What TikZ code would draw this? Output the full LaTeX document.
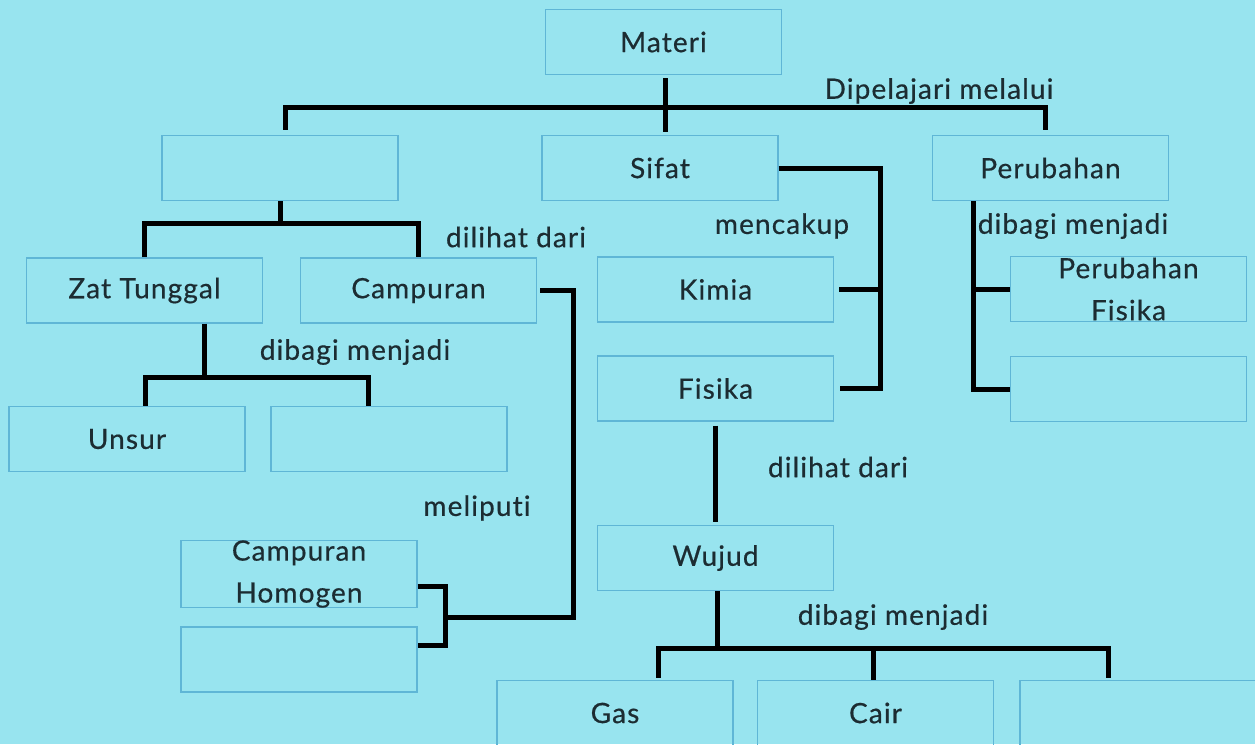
\documentclass[tikz,border=0pt]{standalone}
\usepackage{fontspec}
\setmainfont{Lato}[Ligatures=NoCommon, LetterSpace=4, FakeBold=0.5]
\definecolor{bg}{RGB}{152,228,239}
\definecolor{bx}{RGB}{95,182,214}
\definecolor{tx}{RGB}{28,44,50}
\begin{document}
\begin{tikzpicture}[x=1pt,y=-1pt,
  box/.style={draw=bx, line width=1.2pt, minimum width=236pt, minimum height=65pt,
    inner sep=0pt, text=tx, font=\fontsize{28}{42}\selectfont, align=center},
  lbl/.style={text=tx, font=\fontsize{28}{34}\selectfont, inner sep=0pt},
  con/.style={line width=5pt, black, line join=miter}]
\fill[bg] (0,0) rectangle (1255,744);
\useasboundingbox (0,0) rectangle (1255,744);
\begin{scope}
\clip (0,0) rectangle (1255,744);
% boxes
\node[box] (materi) at (663.5,42) {Materi};
\node[box] (sifat) at (660,168) {Sifat};
\node[box] (kos1) at (280,168) {};
\node[box] (perub) at (1050.5,168) {Perubahan};
\node[box] (zt) at (144.5,290.5) {Zat Tunggal};
\node[box] (camp) at (418.5,290.5) {Campuran};
\node[box] (kimia) at (715.5,289.5) {Kimia};
\node[box] (fisika) at (715.5,388.5) {Fisika};
\node[box] (pf) at (1128.5,289) {Perubahan\\Fisika};
\node[box] (kos5) at (1128.5,389) {};
\node[box] (unsur) at (127,439) {Unsur};
\node[box] (kos2) at (389,439) {};
\node[box] (ch) at (299,574) {Campuran\\Homogen};
\node[box] (kos3) at (299,659.5) {};
\node[box] (wujud) at (715.5,558) {Wujud};
\node[box] (gas) at (615,713) {Gas};
\node[box] (cair) at (875.5,713) {Cair};
\node[box] (kos4) at (1138,713) {};
% labels
\node[lbl] (l1) at (939,91) {Dipelajari melalui};
\node[lbl] (l2) at (516,237) {dilihat dari};
\node[lbl] (l3) at (782,226) {mencakup};
\node[lbl] (l4) at (1073,226) {dibagi menjadi};
\node[lbl] (l5) at (355,352) {dibagi menjadi};
\node[lbl] (l6) at (477,508) {meliputi};
\node[lbl] (l7) at (838,467) {dilihat dari};
\node[lbl] (l8) at (893,617) {dibagi menjadi};
% connectors
\coordinate (mx) at (665,0);
\draw[con] ([yshift=-3pt]materi.south -| mx) -- ([yshift=3pt]sifat.north -| mx);
\draw[con] ([xshift=5pt,yshift=5pt]kos1.north) -- ++(0,-22) -| ([xshift=-5pt,yshift=5pt]perub.north);
\draw[con] (kos1.south) -- ++(0,22) coordinate (j1);
\draw[con] (zt.north) |- (j1) -| (camp.north);
\coordinate (sr) at (880,0);
\draw[con] (sifat.east) -| (fisika.east -| sr) -- ([xshift=6pt]fisika.east);
\draw[con] ([xshift=5pt]kimia.east) -- (kimia.east -| sr);
\coordinate (pr) at (973,0);
\draw[con] (perub.south -| pr) |- (kos5.west);
\draw[con] (pf.west -| pr) -- (pf.west);
\draw[con] ([xshift=60pt]zt.south) -- ++(0,54) coordinate (j2);
\draw[con] ([xshift=18pt]unsur.north) |- (j2) -| ([xshift=-21pt]kos2.north);
\coordinate (br) at (445,617);
\coordinate (cr) at (573,0);
\draw[con] ([xshift=3pt]camp.east) -| (br -| cr) -- (br);
\draw[con] ([yshift=-12pt]ch.east) -| (br) |- ([yshift=14pt]kos3.east);
\draw[con] ([yshift=-4pt]fisika.south) -- ([yshift=3pt]wujud.north);
\draw[con] ([xshift=2pt]wujud.south) -- ++(0,57) coordinate (j3);
\draw[con] ([xshift=43pt,yshift=2pt]gas.north) |- (j3) -| ([xshift=-30pt,yshift=2pt]kos4.north);
\draw[con] ([xshift=-2pt]cair.north) -- ([xshift=-2pt]cair.north |- j3);
\end{scope}
\end{tikzpicture}
\end{document}
